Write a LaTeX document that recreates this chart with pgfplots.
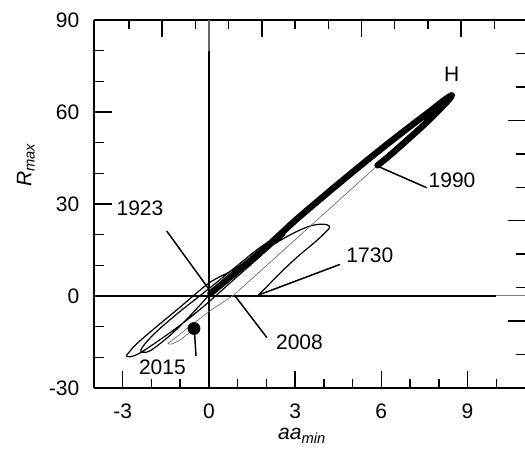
\documentclass[border=0pt]{standalone}
\usepackage{fontspec}
\setmainfont{Liberation Sans}
\usepackage{pgfplots}
\pgfplotsset{compat=1.18}
\usetikzlibrary{calc}
\pgfplotsset{tk/.style={black, line width=0.7pt, mark=none, solid}}
\begin{document}
\fontsize{10.5}{12.6}\selectfont
\begin{tikzpicture}
\begin{axis}[
  at={(0,0)}, anchor=south west,
  scale only axis, width=215.5pt, height=184pt,
  xmin=-4, xmax=11, ymin=-30, ymax=90,
  clip=false,
  axis x line=bottom, axis y line=left,
  axis line style={-, line width=0.8pt},
  tick align=inside,
  xtick={-3,0,3,6,9}, xticklabels={-3,0,3,6,9},
  minor xtick={-2,-1,1,2,4,5,7,8,10},
  ytick={-30,0,30,60,90}, yticklabels={-30,0,30,60,90},
  minor ytick={-20,-10,10,20,40,50,70,80},
  major tick length=8.75pt, minor tick length=4.75pt,
  tick style={black, line width=0.7pt},
  xticklabel style={yshift=-4pt},
  yticklabel style={xshift=-3.7pt},
  xlabel={\textit{aa\textsubscript{min}}},
  xlabel style={at={(axis description cs:0.483,-0.141)}, anchor=base},
  ylabel={\textit{R\textsubscript{max}}},
  ylabel style={at={(axis description cs:-0.158,0.606)}, anchor=center},
]
\coordinate (ll) at (rel axis cs:0,0);
\coordinate (ur) at (rel axis cs:1,1);
% top frame line
\addplot[black, mark=none, line width=0.8pt] coordinates {(-4,90) (11,90)};
% zero lines
\addplot[black, mark=none, line width=0.75pt] coordinates {(-4,0) (10,0)};
\addplot[black!50, mark=none, line width=0.5pt] coordinates {(10,0) (11,0)};
\addplot[black, mark=none, line width=0.75pt] coordinates {(0,-30) (0,80)};
\addplot[black!60, mark=none, line width=0.6pt] coordinates {(0,80) (0,90)};
% thin black path 1730-1923
\addplot[black, mark=none, line width=0.6pt, smooth, tension=0.55] coordinates {
(1.72,0.3) (2.05,3.4) (2.6,8.6) (3.17,13.5) (3.72,17.8) (4.05,20.7) (4.2,22.3)
(4.12,23.2) (3.85,23.4) (3.45,22.6) (2.9,20.3) (2.3,17.1) (1.6,12.9) (0.8,8.3)
(0,4.2) (-1,-3.6) (-2,-11.4) (-2.55,-15.9) (-2.8,-18.6) (-2.87,-19.5)
(-2.72,-19.8) (-2.4,-18.6) (-1.82,-15.0) (-1.2,-10.9) (-0.6,-6.6) (0,-1.9)
(0.8,4.8) (1.6,11.4) (2.25,16.8) (2.55,19.2) (2.64,20.0) (2.52,20.1)
(2.2,18.4) (1.7,15.3) (1.0,10.0) (0,2.4) (-1,-5.0) (-1.8,-11.4) (-2.2,-15.3)
(-2.37,-17.6) (-2.3,-18.4) (-2.0,-17.6) (-1.3,-12.4) (-0.6,-5.9) (0.05,0.8)
};
% gray path 1990-2015
\addplot[black!55, mark=none, line width=0.35pt] coordinates {(5.87,42.6) (0.85,0.2)};
\addplot[black!55, mark=none, line width=0.35pt, smooth, tension=0.55] coordinates {
(0.85,0.2) (0.45,-2.3) (0.0,-5.1) (-0.5,-8.7) (-1.0,-12.4) (-1.3,-14.6)
(-1.42,-15.4) (-1.32,-15.7) (-1.05,-14.6) (-0.78,-12.7) (-0.52,-10.6)
};
% thick path 1923-1990
\addplot[black, mark=none, line width=3.2pt, smooth, tension=0.5, line cap=round, line join=round] coordinates {
(0.05,0.8) (0.5,4.3) (1,8.2) (2,16.0) (3,24.6) (4,32.6) (5,40.4) (6,48.0)
(7,55.3) (7.7,60.3) (8.15,63.6) (8.4,65.2) (8.45,65.4) (8.35,64.0) (7.9,59.6)
(7.46,55.6) (6.7,49.2) (6.2,45.1) (5.87,42.6)
};
% 2015 dot
\addplot[only marks, mark=*, mark size=3pt, black] coordinates {(-0.52,-10.6)};
% leaders
\addplot[black, mark=none, line width=0.75pt] coordinates {(-1.47,21.2) (0,2.2)};
\addplot[black, mark=none, line width=0.75pt] coordinates {(5.95,42.0) (7.58,35.3)};
\addplot[black, mark=none, line width=0.75pt] coordinates {(1.75,0.4) (4.56,10.3)};
\addplot[black, mark=none, line width=0.75pt] coordinates {(0.91,0.0) (2.02,-13.6)};
\addplot[black, mark=none, line width=0.75pt] coordinates {(-0.5,-12.0) (-0.45,-19.6)};
% labels
\node at (axis cs:8.45,72.3) {H};
\node at (axis cs:8.46,37.6) {1990};
\node at (axis cs:5.60,13.4) {1730};
\node at (axis cs:3.15,-15.1) {2008};
\node at (axis cs:-1.62,-23.4) {2015};
\node at (axis cs:-2.40,28.6) {1923};
\end{axis}
% secondary (top / right) scale, ticks drawn as short segments
\begin{axis}[
  at={(0,0)}, anchor=south west,
  scale only axis, width=215.5pt, height=184pt,
  xmin=-2.05, xmax=10.92, ymin=-2, ymax=9,
  hide axis, clip=false,
]
% top major
\addplot[tk] coordinates {(0,9) (0,8.49)};
\addplot[tk] coordinates {(3,9) (3,8.49)};
\addplot[tk] coordinates {(6,9) (6,8.49)};
\addplot[tk] coordinates {(9,9) (9,8.49)};
% top minor
\addplot[tk] coordinates {(-1,9) (-1,8.73)};
\addplot[tk] coordinates {(1,9) (1,8.73)};
\addplot[tk] coordinates {(2,9) (2,8.73)};
\addplot[tk] coordinates {(4,9) (4,8.73)};
\addplot[tk] coordinates {(5,9) (5,8.73)};
\addplot[tk] coordinates {(7,9) (7,8.73)};
\addplot[tk] coordinates {(8,9) (8,8.73)};
\addplot[tk] coordinates {(10,9) (10,8.73)};
% right major
\addplot[tk] coordinates {(10.92,0) (10.41,0)};
\addplot[tk] coordinates {(10.92,3) (10.41,3)};
\addplot[tk] coordinates {(10.92,6) (10.41,6)};
% right minor
\addplot[tk] coordinates {(10.92,-1) (10.65,-1)};
\addplot[tk] coordinates {(10.92,1) (10.65,1)};
\addplot[tk] coordinates {(10.92,2) (10.65,2)};
\addplot[tk] coordinates {(10.92,4) (10.65,4)};
\addplot[tk] coordinates {(10.92,5) (10.65,5)};
\addplot[tk] coordinates {(10.92,7) (10.65,7)};
\addplot[tk] coordinates {(10.92,8) (10.65,8)};
\end{axis}
\pgfresetboundingbox
\path[use as bounding box] ($(ll)+(-47pt,-31pt)$) rectangle ($(ur)+(0pt,10pt)$);
\end{tikzpicture}
\end{document}
